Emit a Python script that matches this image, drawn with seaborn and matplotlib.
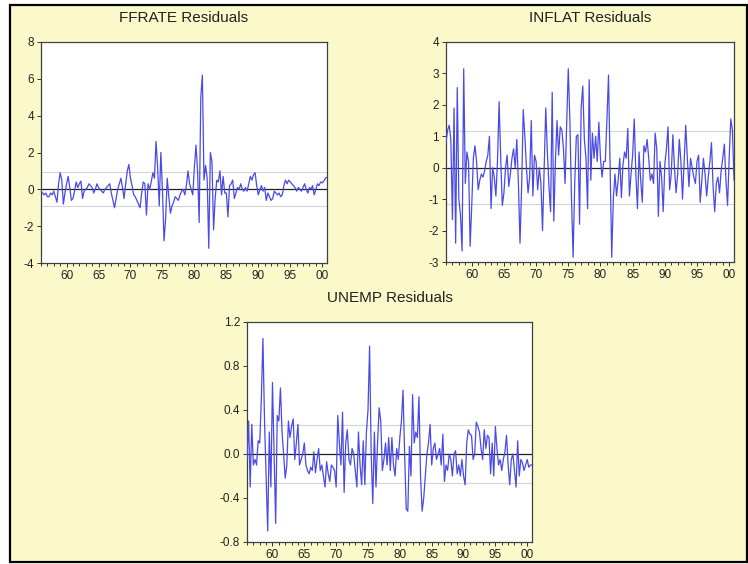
import numpy as np
import pandas as pd
import matplotlib
matplotlib.use("Agg")
import matplotlib.pyplot as plt
import seaborn as sns
from matplotlib.patches import Rectangle
from matplotlib.ticker import MultipleLocator, FixedLocator

sns.set_theme(style="ticks")
plt.rcParams['font.family'] = ['Liberation Sans', 'DejaVu Sans']

# quarterly sample 1956Q1 - 2000Q4
start_year = 1956
n_obs = 180

ffrate_resid = [
    -0.1, -0.2, -0.3, -0.2, -0.4, -0.4, -0.2, -0.3, -0.1, -0.4,
    -0.7, 0.3, 0.9, 0.5, -0.8, -0.2, 0.3, 0.7, 0.1, -0.6,
    -0.5, -0.1, 0.4, 0.1, 0.3, 0.45, -0.5, -0.1, 0.0, 0.1,
    0.3, 0.2, 0.1, -0.2, 0.0, 0.3, 0.1, 0.0, -0.1, -0.2,
    0.0, 0.1, 0.2, 0.3, -0.2, -0.6, -1.0, -0.5, 0.0, 0.3,
    0.6, 0.1, -0.5, 0.3, 1.0, 1.35, 0.6, 0.2, -0.3, -0.4,
    -0.6, -0.8, -1.0, -0.2, 0.4, 0.3, -1.4, 0.3, 0.0, 0.4,
    0.9, 0.6, 2.6, 1.2, -0.9, 2.0, 0.0, -2.8, -1.6, 0.6,
    -0.4, -1.3, -0.9, -0.7, -0.4, -0.5, -0.6, -0.3, -0.1, 0.0,
    -0.3, 0.2, 1.0, 0.3, 0.0, -0.3, 1.2, 2.4, 1.0, -1.8,
    5.0, 6.2, 0.5, 1.3, 0.6, -3.2, 2.0, 1.5, -2.2, -0.5,
    0.5, 0.4, 1.0, -0.3, 0.7, -0.2, -0.2, -1.5, 0.2, 0.3,
    0.5, -0.5, -0.2, 0.1, 0.0, 0.3, 0.0, -0.1, 0.1, -0.1,
    0.3, 0.7, 0.5, 0.8, 0.9, 0.2, -0.3, 0.0, 0.2, -0.1,
    0.1, -0.6, -0.2, -0.4, -0.6, -0.5, -0.1, -0.2, -0.3, -0.2,
    -0.4, -0.3, 0.2, 0.5, 0.3, 0.5, 0.4, 0.3, 0.2, 0.1,
    -0.1, 0.1, 0.0, -0.1, 0.1, 0.3, 0.0, -0.2, 0.1, 0.0,
    0.2, -0.3, 0.0, 0.3, 0.2, 0.4, 0.35, 0.45, 0.6, 0.65,
]

inflat_resid = [
    0.8, 1.2, 1.35, 0.9, -1.65, 1.9, -2.4, 2.55, -1.0, -1.5,
    -2.65, 3.15, -0.5, 0.5, 0.2, -2.5, -1.2, 0.3, 0.7, 0.2,
    -0.7, -0.4, -0.2, -0.3, -0.1, 0.2, 0.4, 1.0, -1.3, 0.0,
    -0.3, -0.9, 0.2, 2.1, 0.3, -1.2, -0.8, 0.0, 0.4, -0.6,
    -0.2, 0.3, 0.6, 0.0, 0.9, -0.5, -2.4, -0.6, 1.85, 1.0,
    0.0, -0.8, -0.3, 1.5, -0.9, 0.4, 0.2, -0.7, 0.0, -0.5,
    -2.0, 0.0, 1.9, 0.5, -0.6, -1.4, 2.4, -1.7, 0.2, 1.5,
    0.4, 1.3, 1.2, 0.6, -0.5, 1.4, 3.15, 1.5, -1.0, -2.85,
    -0.5, 1.0, 1.05, -1.8, 1.9, 2.6, 0.9, 0.3, -1.3, 2.8,
    -0.4, 1.1, 0.3, 1.0, 0.2, 1.45, 0.3, -0.3, 0.2, 0.2,
    1.5, 2.95, 0.0, -2.85, -1.0, -0.2, -0.9, -0.4, 0.3, -0.95,
    0.1, 0.5, 0.3, 1.25, -0.9, -0.2, 0.4, 1.55, -0.2, -1.3,
    0.5, -0.4, -1.1, 0.7, 0.5, 0.9, 0.3, -0.4, -0.2, -0.5,
    1.1, 0.6, -1.55, 0.2, -0.3, -1.4, 0.1, 0.6, 1.3, -0.7,
    -0.2, 1.05, 0.0, -0.8, -0.2, 0.9, 0.2, -1.0, 0.2, 1.35,
    0.3, -0.6, 0.3, 0.0, -0.3, -0.5, 0.2, 0.4, -1.1, -0.4,
    0.3, -0.2, -0.9, -0.3, 0.2, 0.8, -0.6, -1.4, -0.5, -0.3,
    -0.8, -0.1, 0.3, 0.75, -0.4, -1.2, 0.3, 1.55, 1.2, -0.4,
]

unemp_resid = [
    -0.05, 0.3, -0.3, 0.27, -0.1, -0.05, -0.1, 0.12, 0.1, 0.5,
    1.05, 0.3, -0.2, -0.7, 0.2, -0.3, 0.65, 0.0, -0.63, 0.35,
    0.3, 0.6, 0.2, 0.0, -0.22, -0.1, 0.3, 0.15, 0.25, 0.32,
    -0.05, 0.1, 0.27, -0.1, -0.05, 0.0, 0.1, -0.1, -0.15, -0.18,
    -0.12, -0.15, 0.02, -0.17, -0.05, 0.05, -0.15, -0.1, -0.2, -0.3,
    -0.07, -0.18, -0.25, -0.1, -0.12, -0.15, -0.3, 0.35, 0.1, -0.1,
    0.38, -0.35, 0.1, 0.22, -0.05, -0.1, 0.05, 0.0, -0.15, -0.3,
    0.2, -0.1, -0.28, 0.12, -0.28, 0.2, 0.4, 0.98, 0.0, -0.45,
    0.2, -0.3, 0.1, 0.42, 0.3, -0.15, -0.05, 0.1, -0.1, 0.15,
    -0.15, 0.15, -0.1, -0.2, 0.05, -0.05, 0.15, 0.3, 0.58, 0.0,
    -0.5, -0.52, 0.07, -0.2, 0.54, 0.1, 0.2, 0.15, 0.52, -0.2,
    -0.52, -0.4, -0.2, 0.0, 0.1, 0.27, -0.1, 0.05, 0.1, -0.05,
    0.0, 0.05, -0.1, 0.18, -0.25, -0.1, -0.15, 0.0, -0.05, -0.2,
    0.0, 0.03, -0.18, -0.1, -0.2, -0.05, -0.2, -0.28, 0.1, 0.22,
    0.18, 0.17, -0.05, 0.0, 0.29, 0.25, 0.2, 0.05, -0.05, 0.22,
    0.05, 0.17, 0.15, -0.18, 0.1, -0.2, 0.25, 0.05, -0.1, -0.05,
    -0.15, -0.05, 0.02, 0.17, -0.1, -0.28, -0.05, 0.0, -0.15, -0.3,
    0.12, -0.2, -0.05, -0.08, -0.15, -0.1, -0.05, -0.12, -0.1, -0.1,
]

titles = ['FFRATE Residuals', 'INFLAT Residuals', 'UNEMP Residuals']
std_err = [0.92, 1.17, 0.26]
y_ranges = [(-4, 8), (-3, 4), (-0.8, 1.2)]
y_ticks = [[-4, -2, 0, 2, 4, 6, 8],
           [-3, -2, -1, 0, 1, 2, 3, 4],
           [-0.8, -0.4, 0.0, 0.4, 0.8, 1.2]]
y_fmt = ['{:.0f}', '{:.0f}', '{:.1f}']
x_tick_years = [1960, 1965, 1970, 1975, 1980, 1985, 1990, 1995, 2000]
x_tick_labels = ['60', '65', '70', '75', '80', '85', '90', '95', '00']

t = start_year + np.arange(n_obs) / 4.0
df = pd.DataFrame({'t': t, 'FFRATE': ffrate_resid, 'INFLAT': inflat_resid,
                   'UNEMP': unemp_resid})
cols = ['FFRATE', 'INFLAT', 'UNEMP']

W, H = 748, 564
fig = plt.figure(figsize=(W / 100, H / 100), dpi=100, facecolor='white')

# yellow slide background with black frame
fig.patches.append(Rectangle((10 / W, 1 - 562 / H), 737 / W, 557 / H,
                             transform=fig.transFigure, facecolor='#fbf9c9',
                             edgecolor='black', lw=1.6, zorder=-1))

# axes boxes in pixels: left, top, right, bottom
boxes = [(41, 42, 327, 263), (446, 42, 734, 262), (247, 322, 532, 542)]

line_col = '#4a4ae6'
for i, (l, tp, r, b) in enumerate(boxes):
    ax = fig.add_axes([l / W, 1 - b / H, (r - l) / W, (b - tp) / H])
    ax.set_facecolor('white')
    ax.axhline(std_err[i], color='#d4d4d4', lw=0.8, zorder=1)
    ax.axhline(-std_err[i], color='#d4d4d4', lw=0.8, zorder=1)
    ax.axhline(0, color='#202020', lw=0.9, zorder=2)
    sns.lineplot(data=df, x='t', y=cols[i], ax=ax, color=line_col,
                 linewidth=0.9, zorder=3)
    ax.set_xlim(start_year, start_year + (n_obs - 1) / 4.0)
    ax.set_ylim(*y_ranges[i])
    ax.set_yticks(y_ticks[i])
    ax.set_yticklabels([y_fmt[i].format(v) for v in y_ticks[i]])
    ax.xaxis.set_major_locator(FixedLocator(x_tick_years))
    ax.set_xticklabels(x_tick_labels)
    ax.xaxis.set_minor_locator(MultipleLocator(1))
    ax.tick_params(axis='both', which='both', direction='out', length=3,
                   width=0.7, color='#333333', labelsize=8.5,
                   labelcolor='#222222', pad=2)
    ax.tick_params(axis='x', which='minor', length=2.5)
    ax.set_xlabel('')
    ax.set_ylabel('')
    for s in ax.spines.values():
        s.set_color('#404040')
        s.set_linewidth(0.9)
        s.set_visible(True)
    ax.text(0.5, 1 + 24 / (b - tp), titles[i], transform=ax.transAxes,
            ha='center', va='center', fontsize=11, color='#222222')

fig.savefig('out.png', dpi=100, facecolor='white')
